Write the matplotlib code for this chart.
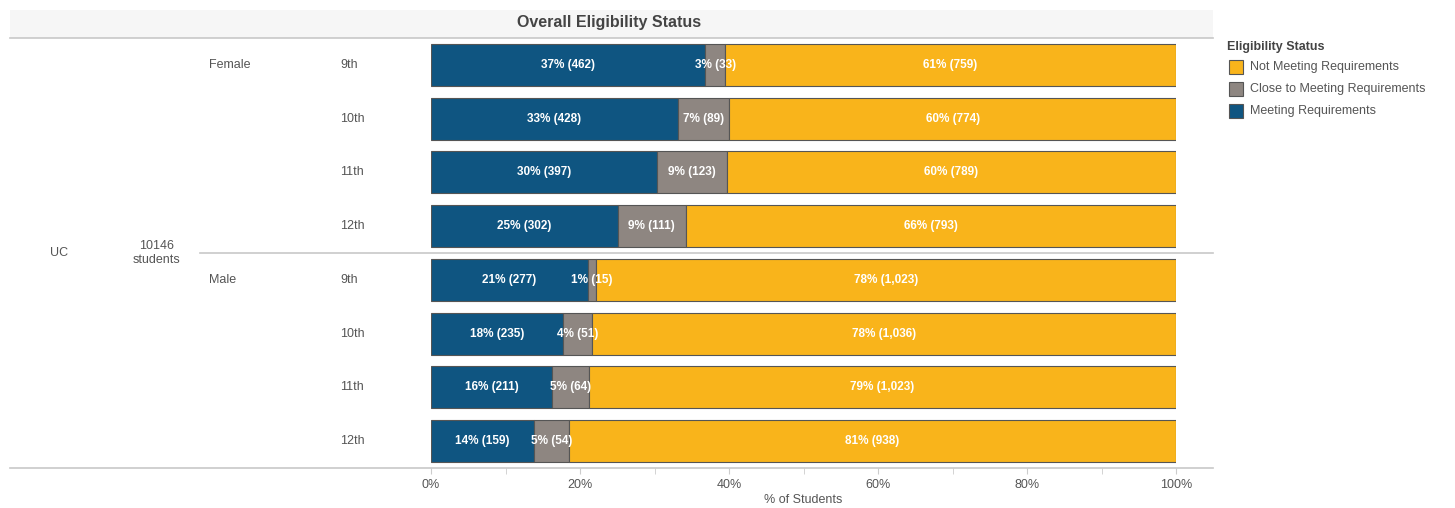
import matplotlib.pyplot as plt
import numpy as np
from matplotlib.lines import Line2D
from matplotlib.patches import Rectangle

plt.rcParams["font.family"] = ["Liberation Sans", "DejaVu Sans"]

# ── data ───────────────────────────────────────────────────────────
genders = ["Female", "Male"]
grades = ["9th", "10th", "11th", "12th"]
meeting = [462, 428, 397, 302, 277, 235, 211, 159]
close = [33, 89, 123, 111, 15, 51, 64, 54]
not_meeting = [759, 774, 789, 793, 1023, 1036, 1023, 938]
meeting_pct = ["37%", "33%", "30%", "25%", "21%", "18%", "16%", "14%"]
close_pct = ["3%", "7%", "9%", "9%", "1%", "4%", "5%", "5%"]
not_pct = ["61%", "60%", "60%", "66%", "78%", "78%", "79%", "81%"]
status_names = ["Not Meeting Requirements", "Close to Meeting Requirements",
                "Meeting Requirements"]

C_MEET = "#0f5581"
C_CLOSE = "#8e8681"
C_NOT = "#f9b41b"
EDGE = "#555555"
TXT = "#555555"

W, H = 1455, 508
fig = plt.figure(figsize=(W / 100, H / 100), dpi=100)


def fx(px):
    return px / W


def fy(py):
    return 1 - py / H


ax = fig.add_axes([fx(431), fy(468), fx(1176) - fx(431), fy(38) - fy(468)])

m = np.array(meeting, float)
c = np.array(close, float)
n = np.array(not_meeting, float)
tot = m + c + n
pm, pc, pn = m / tot, c / tot, n / tot
y = np.arange(len(m))

kw = dict(height=0.78, edgecolor=EDGE, linewidth=0.8)
ax.barh(y, pm, color=C_MEET, **kw)
ax.barh(y, pc, left=pm, color=C_CLOSE, **kw)
ax.barh(y, pn, left=pm + pc, color=C_NOT, **kw)


def fmt(v):
    return f"{int(v):,}"


lab = dict(ha="center", va="center", color="white", fontsize=8.5, fontweight="bold")
for i in range(len(y)):
    ax.text(pm[i] / 2, i, f"{meeting_pct[i]} ({fmt(m[i])})", **lab)
    ax.text(pm[i] + pc[i] / 2, i, f"{close_pct[i]} ({fmt(c[i])})", **lab)
    ax.text(pm[i] + pc[i] + pn[i] / 2, i, f"{not_pct[i]} ({fmt(n[i])})", **lab)

ax.set_xlim(0, 1.0)
ax.set_ylim(len(y) - 0.5, -0.5)
ax.set_yticks([])
ax.set_xticks(np.linspace(0, 1, 6))
ax.set_xticklabels([f"{int(v * 100)}%" for v in np.linspace(0, 1, 6)],
                   fontsize=9, color=TXT)
ax.set_xticks(np.linspace(0, 1, 11), minor=True)
ax.tick_params(axis="x", which="both", length=4, color="#cccccc", pad=4)
ax.set_xlabel("% of Students", fontsize=9, color=TXT, labelpad=2)
for s in ax.spines.values():
    s.set_visible(False)

# ── header band and rules ──────────────────────────────────────────
fig.patches.append(Rectangle((fx(10), fy(38)), fx(1213) - fx(10), fy(10) - fy(38),
                             transform=fig.transFigure, facecolor="#f6f6f6",
                             edgecolor="none", zorder=0))
fig.text(fx(609), fy(23), "Overall Eligibility Status", ha="center", va="center",
         fontsize=11.5, fontweight="bold", color="#444444")
for x0, yy in [(10, 38), (200, 253), (10, 468)]:
    fig.add_artist(Line2D([fx(x0), fx(1213)], [fy(yy), fy(yy)], color="#c8c8c8",
                          lw=1.2, transform=fig.transFigure))

# ── row headers ────────────────────────────────────────────────────
row_px = 38 + (np.arange(len(y)) + 0.5) * (430 / len(y))
for gi, g in enumerate(genders):
    fig.text(fx(209), fy(row_px[gi * 4]), g, ha="left", va="center", fontsize=9, color=TXT)
    for k, gr in enumerate(grades):
        fig.text(fx(340), fy(row_px[gi * 4 + k]), gr, ha="left", va="center",
                 fontsize=9, color=TXT)
fig.text(fx(50), fy(253), "UC", ha="left", va="center", fontsize=9, color=TXT)
fig.text(fx(157), fy(253), f"{int(tot.sum())}\nstudents", ha="center", va="center",
         fontsize=9, color=TXT, linespacing=1.15)

# ── legend ─────────────────────────────────────────────────────────
fig.text(fx(1227), fy(47), "Eligibility Status", ha="left", va="center",
         fontsize=9, fontweight="bold", color="#444444")
for k, (name, col) in enumerate(zip(status_names, [C_NOT, C_CLOSE, C_MEET])):
    yy = 67 + k * 22
    fig.patches.append(Rectangle((fx(1229), fy(yy + 7)), fx(14), fy(0) - fy(14),
                                 transform=fig.transFigure, facecolor=col,
                                 edgecolor=EDGE, lw=0.8))
    fig.text(fx(1250), fy(yy), name, ha="left", va="center", fontsize=9, color=TXT)

fig.savefig("out.png", dpi=100, facecolor="white")
